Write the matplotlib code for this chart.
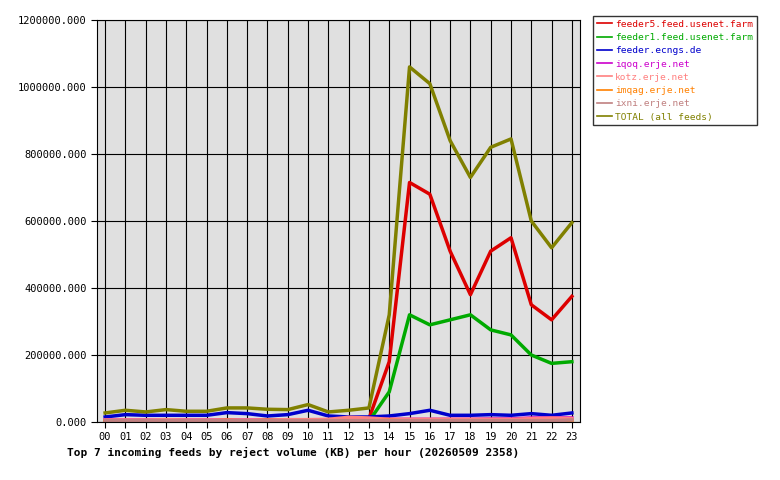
import matplotlib
matplotlib.use("Agg")
import matplotlib.pyplot as plt

HOURS = [f"{h:02d}" for h in range(24)]

FEEDER5 = [2000, 2000, 2000, 2000, 2000, 2000, 3000, 3000, 2000, 2000, 3000, 2000,
           2000, 10000, 180000, 715000, 680000, 510000, 380000, 510000, 550000,
           350000, 305000, 375000]
FEEDER1 = [1000, 1000, 1000, 1000, 1000, 1000, 1000, 2000, 1000, 1000, 1000, 1000,
           1000, 2000, 90000, 320000, 290000, 305000, 320000, 275000, 260000,
           200000, 175000, 180000]
ECNGS = [15000, 22000, 20000, 20000, 20000, 20000, 28000, 25000, 18000, 22000,
         35000, 18000, 15000, 15000, 18000, 25000, 35000, 20000, 20000, 22000,
         20000, 25000, 20000, 27000]
IQOQ = [6000, 6000, 6000, 6000, 6000, 6000, 6000, 6000, 6000, 6000, 6000, 6000,
        8000, 8000, 8000, 8000, 8000, 8000, 8000, 9000, 9000, 12000, 12000, 12000]
KOTZ = [6000, 6000, 6000, 7000, 6000, 6000, 6000, 6000, 6000, 7000, 7000, 8000,
        14000, 12000, 8000, 8000, 8000, 8000, 8000, 8000, 8000, 10000, 12000, 10000]
IMQAG = [3000, 3000, 3000, 3000, 3000, 3000, 5000, 3000, 5000, 3000, 3000, 3000,
         3000, 3000, 5000, 3000, 3000, 3000, 3000, 3000, 3000, 3000, 3000, 3000]
IXNI = [4000, 4000, 4000, 4000, 4000, 4000, 4000, 4000, 4000, 4000, 4000, 4000,
        4000, 4000, 4000, 4000, 4000, 4000, 4000, 4000, 4000, 4000, 4000, 6000]
TOTAL = [27000, 35000, 30000, 37000, 32000, 32000, 42000, 42000, 38000, 37000,
         52000, 30000, 35000, 42000, 320000, 1060000, 1010000, 840000, 730000,
         820000, 845000, 600000, 520000, 595000]

SERIES = [
    ("feeder5.feed.usenet.farm", FEEDER5, "#dd0000"),
    ("feeder1.feed.usenet.farm", FEEDER1, "#00aa00"),
    ("feeder.ecngs.de", ECNGS, "#0000cc"),
    ("iqoq.erje.net", IQOQ, "#cc00cc"),
    ("kotz.erje.net", KOTZ, "#ff8080"),
    ("imqag.erje.net", IMQAG, "#ff8000"),
    ("ixni.erje.net", IXNI, "#c08080"),
    ("TOTAL (all feeds)", TOTAL, "#808000"),
]

plt.rcParams["font.family"] = "DejaVu Sans Mono"

fig = plt.figure(figsize=(7.8, 4.8), dpi=100)
ax = fig.add_axes([97 / 780, 1 - 422 / 480, 483 / 780, 402 / 480])
ax.set_facecolor("#e0e0e0")

x = list(range(24))
for label, values, color in SERIES:
    ax.plot(x, values, color=color, linewidth=2.5, label=label)

ax.set_xlim(-0.4, 23.4)
ax.set_ylim(0, 1200000)
ax.set_xticks(x)
ax.set_xticklabels(HOURS, fontsize=7.5)
ax.set_yticks(range(0, 1200001, 200000))
ax.set_yticklabels([f"{v}.000" for v in range(0, 1200001, 200000)], fontsize=7.5)
ax.grid(True, color="black", linewidth=0.8)
ax.set_axisbelow(True)
ax.tick_params(length=4)

fig.text(67 / 780, 1 - 452 / 480,
         "Top 7 incoming feeds by reject volume (KB) per hour (20260509 2358)",
         fontsize=8, fontweight="bold", va="center")

handles, labels = ax.get_legend_handles_labels()
leg = fig.legend(handles, labels, loc="upper left",
                 bbox_to_anchor=(593 / 780, 1 - 16 / 480),
                 fontsize=6.8, frameon=True, fancybox=False,
                 edgecolor="black", handlelength=1.6, handletextpad=0.3,
                 borderpad=0.4, borderaxespad=0, labelspacing=0.45)
for line in leg.get_lines():
    line.set_linewidth(1.2)
for text, (_, _, color) in zip(leg.get_texts(), SERIES):
    text.set_color(color)

fig.savefig("out.png", dpi=100)
